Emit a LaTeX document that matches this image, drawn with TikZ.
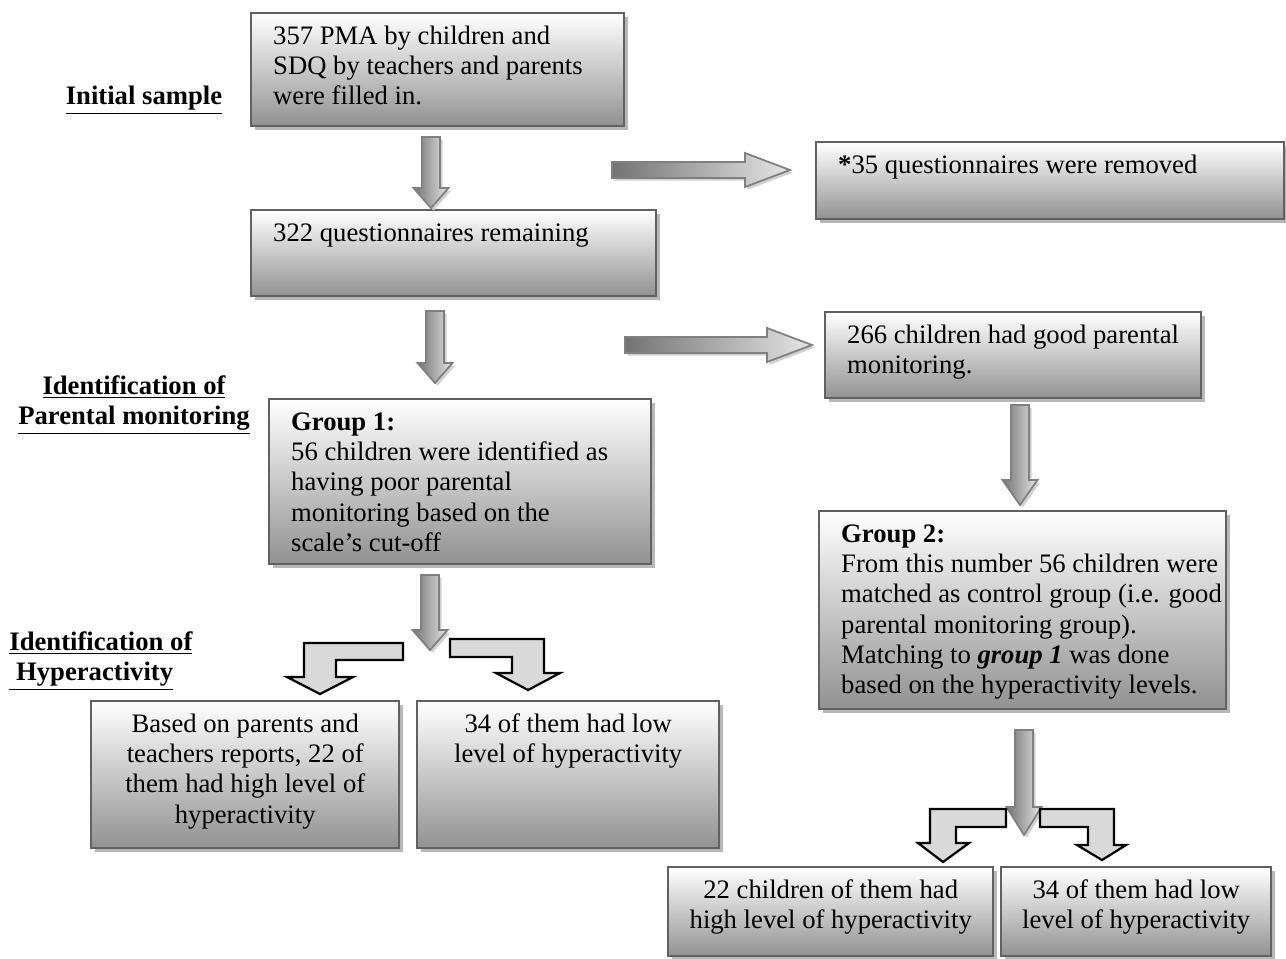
\documentclass[tikz,border=0pt]{standalone}
\usepackage{fontspec}
\setmainfont{Liberation Serif}
\usetikzlibrary{shadows}

\newcommand{\ftext}{\fontsize{12pt}{13.6pt}\selectfont}
\newcommand{\boxtext}[3]{\parbox[t][#2][t]{#1}{#3}}
% straight block arrows, #1 = start coordinate, #2 = length, #3 = head length
\newcommand{\downblk}[3]{%
  \draw[blockarrow, shift={(#1)}] (-9,0) -- (9,0) -- (9,#2-#3) -- (17.5,#2-#3)
    -- (0,#2) -- (-17.5,#2-#3) -- (-9,#2-#3) -- cycle;}
\newcommand{\rightblk}[3]{%
  \draw[blockarrow, shift={(#1)}] (0,-8) -- (#2-#3,-8) -- (#2-#3,-17) -- (#2,0)
    -- (#2-#3,17) -- (#2-#3,8) -- (0,8) -- cycle;}

\tikzset{
  stepbox/.style={draw=black!62, line width=1.1pt, top color=white, bottom color=black!43,
    drop shadow={shadow xshift=1.8pt, shadow yshift=-1.8pt, fill=black!28, opacity=1},
    inner xsep=9.9pt, inner ysep=4.5pt, anchor=north west, font=\ftext},
  midbox/.style={stepbox, inner xsep=5pt},
  sidelabel/.style={font=\ftext\bfseries, inner sep=0pt},
  blockarrow/.style={draw=black!50, line width=0.8pt, left color=black!55, right color=black!10,
    drop shadow={shadow xshift=1.2pt, shadow yshift=-1.2pt, fill=black!18, opacity=1}},
  bentarrow/.style={draw=black, line width=1pt, fill=black!15, line join=miter},
}

\begin{document}
\begin{tikzpicture}[x=0.45pt, y=-0.45pt]
  \useasboundingbox (0,0) rectangle (1286,958);

  % side headings
  \node[sidelabel] (initlbl) at (144,100) {\underline{Initial sample}};
  \node[sidelabel, align=center] (parlbl) at (134,405) {\underline{Identification of}\\\underline{Parental monitoring}};
  \node[sidelabel, align=left, anchor=west] (hyplbl) at (9,661) {\underline{Identification of}\\\underline{\ Hyperactivity}};

  % boxes
  \node[stepbox] (init) at (250,12) {\boxtext{148.05pt}{41.85pt}{\raggedright\strut
    357 PMA by children and\\SDQ by teachers and parents\\were filled in.}};
  \node[stepbox] (remain) at (250,209) {\boxtext{162.45pt}{29.7pt}{\raggedright\strut
    322 questionnaires remaining}};
  \node[stepbox] (removed) at (815,141) {\boxtext{190.8pt}{25.65pt}{\raggedright\strut
    \textbf{*}35 questionnaires were removed}};
  \node[stepbox] (good) at (824,311) {\boxtext{149.4pt}{29.7pt}{\raggedright\strut
    266 children had good parental\\monitoring.}};
  \node[stepbox] (grpone) at (268,398) {\boxtext{152.1pt}{65.25pt}{\raggedright\strut
    \textbf{Group 1:}\\56 children were identified as\\having poor parental\\monitoring based on the\\scale's cut-off}};
  \node[stepbox, inner xsep=0pt] (grptwo) at (818,510) {\boxtext{183.15pt}{80.1pt}{\raggedright\leftskip=9.9pt\strut
    \textbf{Group 2:}\\From this number 56 children were\\matched as control group (i.e. good\\parental monitoring group).\\Matching to \textbf{\textit{group 1}} was done\\based on the hyperactivity levels.}};
  \node[midbox] (highone) at (90,700) {\boxtext{128.6pt}{57.15pt}{\centering\strut
    Based on parents and\\teachers reports, 22 of\\them had high level of\\hyperactivity}};
  \node[midbox] (lowone) at (416,700) {\boxtext{125.9pt}{57.15pt}{\centering\strut
    34 of them had low\\level of hyperactivity}};
  \node[midbox] (hightwo) at (667,866) {\boxtext{136.25pt}{31.05pt}{\centering\strut
    22 children of them had\\high level of hyperactivity}};
  \node[midbox] (lowtwo) at (1000,866) {\boxtext{111.5pt}{31.05pt}{\centering\strut
    34 of them had low\\level of hyperactivity}};

  % straight block arrows
  \coordinate (a1) at (431,137);
  \coordinate (a2) at (435,311);
  \coordinate (a3) at (430,575);
  \coordinate (a4) at (1020,405);
  \coordinate (a5) at (1024,730);
  \coordinate (r1) at (612,170);
  \coordinate (r2) at (625,345);
  \downblk{a1}{71}{20}
  \downblk{a2}{72}{20}
  \downblk{a3}{75}{20}
  \downblk{a4}{100}{25}
  \downblk{a5}{105}{28}
  \rightblk{r1}{178}{45}
  \rightblk{r2}{187}{45}

  % bent arrows, drawn round their tips
  \coordinate (b1) at (320,694);
  \coordinate (b2) at (528,690);
  \coordinate (b3) at (943,862);
  \coordinate (b4) at (1102,860);
  \draw[bentarrow, shift={(b1)}] (-33,-17) -- (-16,-17) -- (-16,-51) -- (83,-51) -- (83,-34)
    -- (16,-34) -- (16,-17) -- (33,-17) -- (0,0) -- cycle;
  \draw[bentarrow, shift={(b2)}] (-78,-51) -- (16,-51) -- (16,-17) -- (32,-17) -- (0,0)
    -- (-32,-17) -- (-16,-17) -- (-16,-33) -- (-78,-33) -- cycle;
  \draw[bentarrow, shift={(b3)}] (-25,-19) -- (-13,-19) -- (-13,-53) -- (63,-53) -- (63,-35)
    -- (13,-35) -- (13,-19) -- (26,-19) -- (0,0) -- cycle;
  \draw[bentarrow, shift={(b4)}] (-62,-51) -- (12,-51) -- (12,-15) -- (24,-15) -- (0,0)
    -- (-25,-15) -- (-14,-15) -- (-14,-33) -- (-62,-33) -- cycle;
\end{tikzpicture}
\end{document}
